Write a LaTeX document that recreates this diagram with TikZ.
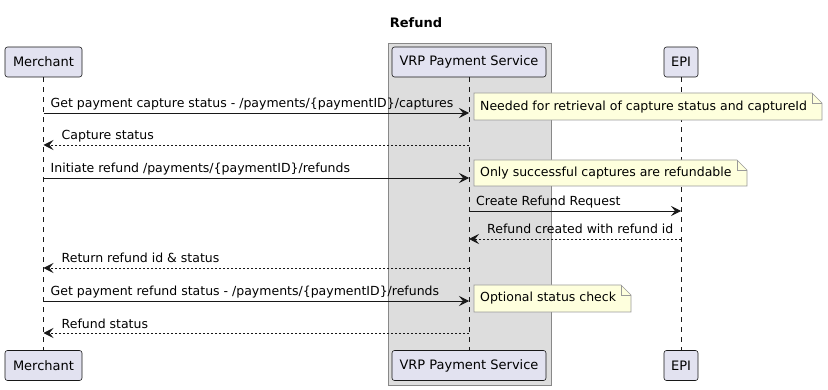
\documentclass[tikz,border=0pt]{standalone}
\usepackage{fontspec}
\setmainfont{DejaVu Sans}
\usetikzlibrary{arrows.meta}
\definecolor{partfill}{HTML}{E2E2F0}
\definecolor{partline}{HTML}{181818}
\definecolor{boxfill}{HTML}{DDDDDD}
\definecolor{boxline}{HTML}{888888}
\definecolor{notefill}{HTML}{FEFFDD}
\definecolor{noteline}{HTML}{999999}
\tikzset{
  part/.style={draw=partline, fill=partfill, rounded corners=2.5pt, line width=0.6pt,
    minimum height=30pt, inner sep=0pt, font=\fontsize{13}{15}\selectfont, text=black},
  life/.style={draw=partline, line width=0.5pt, dash pattern=on 5pt off 5pt},
  msg/.style={draw=partline, line width=0.8pt, -{Stealth[length=10pt,width=10pt,inset=4pt]}},
  ret/.style={msg, dash pattern=on 2pt off 2pt},
  lbl/.style={anchor=base west, inner sep=0pt, font=\fontsize{12.5}{14}\selectfont, text=black},
  notetxt/.style={anchor=west, inner sep=0pt, font=\fontsize{12.5}{14}\selectfont, text=black},
  notebox/.style={draw=noteline, fill=notefill, line width=0.6pt},
}
\newcommand{\mynote}[4]{% x1 y1 x2 y2
  \path[notebox] (#1,#2) -- (#3-10,#2) -- (#3,#2+10) -- (#3,#4) -- (#1,#4) -- cycle;
  \draw[noteline, line width=0.6pt] (#3-10,#2) -- (#3-10,#2+10) -- (#3,#2+10);
}
\begin{document}
\begin{tikzpicture}[x=1pt,y=-1pt]
\useasboundingbox (0,0) rectangle (828,390);
% group box
\path[fill=boxfill, draw=boxline, line width=0.8pt] (388,43) rectangle (551,385);
% title
\node[font=\bfseries\fontsize{13}{15}\selectfont] (title) at (416,23) {Refund};
% participants
\node[part, minimum width=77pt] (mT) at (43.5,62) {Merchant};
\node[part, minimum width=154pt] (vT) at (469,62) {VRP Payment Service};
\node[part, minimum width=34pt] (eT) at (681,62) {EPI};
\node[part, minimum width=77pt] (mB) at (43.5,365.5) {Merchant};
\node[part, minimum width=154pt] (vB) at (469,365.5) {VRP Payment Service};
\node[part, minimum width=34pt] (eB) at (681,365.5) {EPI};
% lifelines
\draw[life] (mT.south) -- (mB.north);
\draw[life] (vT.south) -- (vB.north);
\draw[life] (eT.south) -- (eB.north);
% message coordinates
\foreach \n/\y in {1/113,2/145,3/178,4/211,5/239,6/268,7/301,8/333}{
  \coordinate (m\n) at (43.5,\y);
  \coordinate (v\n) at (469,\y);
  \coordinate (e\n) at (681,\y);
}
% messages
\draw[msg] (m1) -- (v1);
\node[lbl] (l1) at ([xshift=7pt,yshift=5pt]m1) {Get payment capture status - /payments/\{paymentID\}/captures};
\draw[ret] (v2) -- (m2);
\node[lbl] (l2) at ([xshift=18pt,yshift=5pt]m2) {Capture status};
\draw[msg] (m3) -- (v3);
\node[lbl] (l3) at ([xshift=7pt,yshift=5pt]m3) {Initiate refund /payments/\{paymentID\}/refunds};
\draw[msg] (v4) -- (e4);
\node[lbl] (l4) at ([xshift=7pt,yshift=5pt]v4) {Create Refund Request};
\draw[ret] (e5) -- (v5);
\node[lbl] (l5) at ([xshift=18pt,yshift=5pt]v5) {Refund created with refund id};
\draw[ret] (v6) -- (m6);
\node[lbl] (l6) at ([xshift=18pt,yshift=5pt]m6) {Return refund id \& status};
\draw[msg] (m7) -- (v7);
\node[lbl] (l7) at ([xshift=7pt,yshift=5pt]m7) {Get payment refund status - /payments/\{paymentID\}/refunds};
\draw[ret] (v8) -- (m8);
\node[lbl] (l8) at ([xshift=18pt,yshift=5pt]m8) {Refund status};
% notes
\mynote{474}{93}{822}{120}
\node[notetxt] (n1) at (480,107) {Needed for retrieval of capture status and captureId};
\mynote{474}{160}{747}{186}
\node[notetxt] (n2) at (480,173) {Only successful captures are refundable};
\mynote{474}{285}{631}{312}
\node[notetxt] (n3) at (480,298.5) {Optional status check};
\end{tikzpicture}
\end{document}
